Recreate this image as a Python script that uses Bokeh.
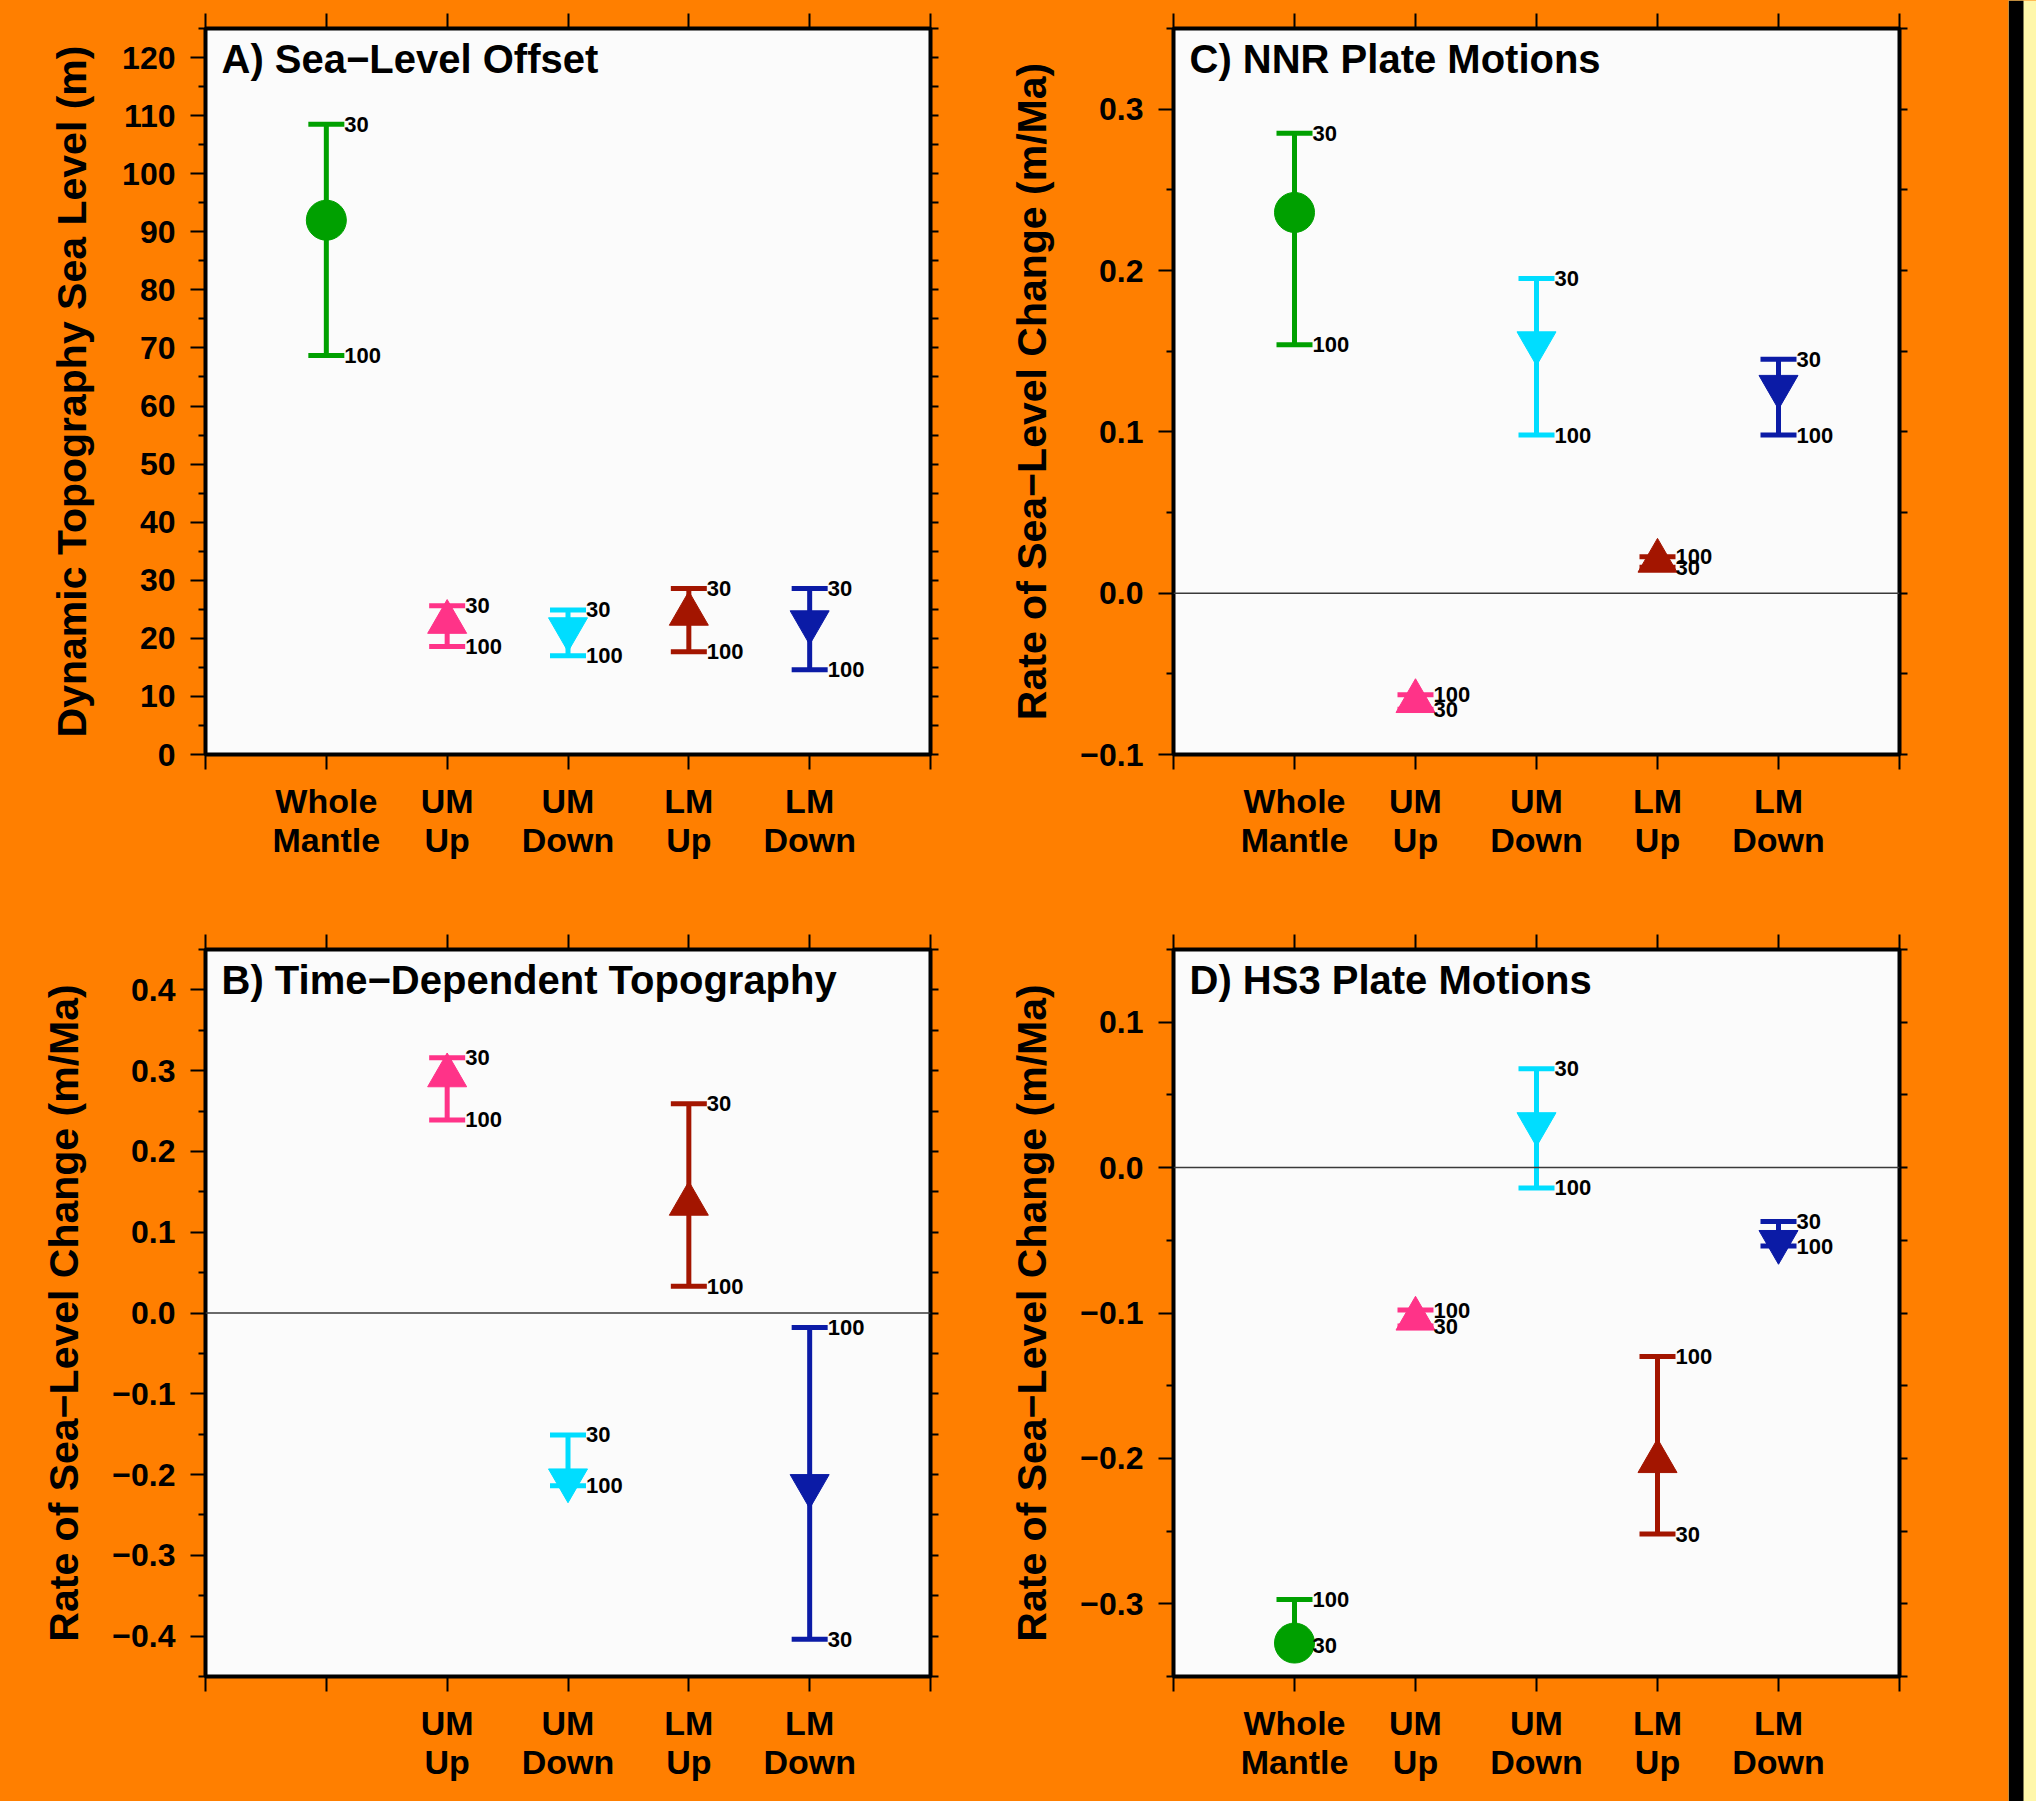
from bokeh.plotting import figure
from bokeh.models import (FixedTicker, LinearAxis, Range1d, Span, Label,
                          CustomJSTickFormatter, ColumnDataSource)
from bokeh.layouts import row, column
from bokeh.embed import file_html
from bokeh.resources import INLINE
from bokeh.core.properties import value

# ---------------- data ----------------
categories = ["Whole Mantle", "UM Up", "UM Down", "LM Up", "LM Down"]
cat_pos = [1, 2, 3, 4, 5]
markers = ["circle", "triangle", "inverted_triangle", "triangle", "inverted_triangle"]
colors = ["#00A000", "#FF3388", "#00DDFF", "#A31500", "#0B1BA6"]

# A) Sea-Level Offset (m)
a_value = [92.0, 22.8, 21.6, 24.2, 22.8]
a_30 = [108.5, 25.6, 24.9, 28.6, 28.6]
a_100 = [68.7, 18.6, 17.0, 17.7, 14.6]

# B) Time-Dependent Topography (m/Ma)  (no Whole Mantle value)
b_value = [None, 0.294, -0.207, 0.135, -0.214]
b_30 = [None, 0.316, -0.151, 0.259, -0.404]
b_100 = [None, 0.239, -0.214, 0.033, -0.018]

# C) NNR Plate Motions (m/Ma)
c_value = [0.236, -0.067, 0.155, 0.020, 0.128]
c_30 = [0.285, -0.072, 0.195, 0.016, 0.145]
c_100 = [0.154, -0.063, 0.098, 0.0225, 0.098]

# D) HS3 Plate Motions (m/Ma)
d_value = [-0.327, -0.104, 0.030, -0.202, -0.051]
d_30 = [-0.329, -0.109, 0.068, -0.252, -0.037]
d_100 = [-0.297, -0.098, -0.014, -0.130, -0.054]

titles = ["A) Sea\u2212Level Offset", "B) Time\u2212Dependent Topography",
          "C) NNR Plate Motions", "D) HS3 Plate Motions"]
ylabel_a = "Dynamic Topography Sea Level (m)"
ylabel_rate = "Rate of Sea\u2212Level Change (m/Ma)"

a_ticks = [0, 10, 20, 30, 40, 50, 60, 70, 80, 90, 100, 110, 120]
a_minor = [5, 15, 25, 35, 45, 55, 65, 75, 85, 95, 105, 115, 125]
b_ticks = [-0.4, -0.3, -0.2, -0.1, 0.0, 0.1, 0.2, 0.3, 0.4]
b_minor = [-0.45, -0.35, -0.25, -0.15, -0.05, 0.05, 0.15, 0.25, 0.35, 0.45]
c_ticks = [-0.1, 0.0, 0.1, 0.2, 0.3]
c_minor = [-0.05, 0.05, 0.15, 0.25, 0.35]
d_ticks = [-0.3, -0.2, -0.1, 0.0, 0.1]
d_minor = [-0.35, -0.25, -0.15, -0.05, 0.05, 0.15]
x_ticks = [0, 1, 2, 3, 4, 5, 6]

ORANGE = "#FF7F00"
PLOTBG = "#FBFBFB"
FONT = "Liberation Sans"

LW, RW, SW = 968, 1040, 28
TH, BH = 878, 923

fmt_int = CustomJSTickFormatter(code="return tick.toFixed(0);")
fmt_dec = CustomJSTickFormatter(
    code="return (tick < -1e-9 ? '\u2212' : '') + Math.abs(tick).toFixed(1);")


def style_axis(ax, major_out=15, minor_out=7):
    ax.axis_line_color = None
    ax.major_tick_line_color = "black"
    ax.major_tick_line_width = 2
    ax.major_tick_in = 0
    ax.major_tick_out = major_out
    ax.minor_tick_line_color = "black"
    ax.minor_tick_line_width = 2
    ax.minor_tick_in = 0
    ax.minor_tick_out = minor_out
    ax.major_label_text_font = FONT
    ax.major_label_text_font_style = "bold"
    ax.major_label_text_color = "black"
    ax.major_label_text_font_size = "32px"
    ax.major_label_standoff = 15
    ax.axis_label_text_font = FONT
    ax.axis_label_text_font_style = "bold"
    ax.axis_label_text_font_size = "41px"
    ax.axis_label_text_color = "black"


def panel(title, vals, v30, v100, yr, ticks, minor, fmt, ylabel, w, h,
          bl, br, bt, bb, show_cat, zero_line, ylab_standoff):
    frame_h = h - bt - bb
    p = figure(width=w, height=h, x_range=Range1d(0, 6), y_range=Range1d(*yr),
               output_backend="svg", toolbar_location=None,
               min_border_left=bl, min_border_right=br,
               min_border_top=bt, min_border_bottom=bb,
               background_fill_color=PLOTBG, border_fill_color=ORANGE,
               outline_line_color="black", outline_line_width=4,
               x_axis_location="below", y_axis_location="left")
    p.xgrid.visible = False
    p.ygrid.visible = False

    # left axis
    yax = p.yaxis[0]
    yax.ticker = FixedTicker(ticks=ticks, minor_ticks=minor)
    yax.formatter = fmt
    style_axis(yax)
    yax.axis_label = ylabel
    yax.axis_label_standoff = ylab_standoff

    # bottom axis: labelled ticks at shown categories, other ticks as "minor"
    lab_pos = [xp for xp, s in zip(cat_pos, show_cat) if s]
    other = [t for t in x_ticks if t not in lab_pos]
    xax = p.xaxis[0]
    xax.ticker = FixedTicker(ticks=lab_pos, minor_ticks=other)
    xax.major_label_overrides = {xp: c.replace(" ", "\n")
                                 for c, xp in zip(categories, cat_pos) if xp in lab_pos}
    style_axis(xax, major_out=15, minor_out=15)
    xax.major_label_text_font_size = "34px"
    xax.major_label_text_line_height = 1.05
    xax.major_label_standoff = 12

    # right + top axes: ticks only (all as minor ticks, so no labels are drawn)
    rax = LinearAxis(ticker=FixedTicker(ticks=[], minor_ticks=sorted(ticks + minor)))
    style_axis(rax, major_out=8, minor_out=8)
    rax.major_label_standoff = 0
    p.add_layout(rax, "right")
    tax = LinearAxis(ticker=FixedTicker(ticks=[], minor_ticks=x_ticks))
    style_axis(tax, major_out=15, minor_out=15)
    tax.major_label_standoff = 0
    p.add_layout(tax, "above")

    if zero_line:
        p.add_layout(Span(location=0, dimension="width", line_color="#3A3A3A",
                          line_width=1.5))

    xs, ys, y30, y100, cols, mks, sizes = [], [], [], [], [], [], []
    for xp, v, a, b, col, mk in zip(cat_pos, vals, v30, v100, colors, markers):
        if v is None:
            continue
        xs.append(xp); ys.append(v); y30.append(a); y100.append(b)
        cols.append(col); mks.append(mk)
        sizes.append(40 if mk == "circle" else 39)
    src = ColumnDataSource(dict(x=xs, y=ys, y30=y30, y100=y100, color=cols,
                                marker=mks, size=sizes,
                                l30=["30"] * len(xs), l100=["100"] * len(xs)))
    # error bars
    p.segment(x0="x", y0="y30", x1="x", y1="y100", source=src,
              line_color="color", line_width=5)
    p.scatter(x="x", y="y30", marker="dash", size=36, source=src,
              line_color="color", line_width=5)
    p.scatter(x="x", y="y100", marker="dash", size=36, source=src,
              line_color="color", line_width=5)
    # symbols
    p.scatter(x="x", y="y", marker="marker", size="size", source=src,
              fill_color="color", line_color="color", line_width=1)
    # labels
    for col in ("30", "100"):
        p.text(x="x", y="y" + col, text="l" + col, source=src, x_offset=18,
               text_baseline="middle", text_align="left",
               text_font=value(FONT), text_font_style="bold",
               text_font_size="22px", text_color="black")

    # panel title
    span = yr[1] - yr[0]
    ty = yr[1] - 30.0 * span / frame_h
    tx = 16.0 * 6.0 / (w - bl - br)
    p.add_layout(Label(x=tx, y=ty, text=title, text_font=FONT,
                       text_font_style="bold", text_font_size="40px",
                       text_color="black", text_baseline="alphabetic"))
    return p


show_all = [True, True, True, True, True]
show_no_wm = [False, True, True, True, True]

pa = panel(titles[0], a_value, a_30, a_100, (0, 125), a_ticks, a_minor, fmt_int,
           ylabel_a, LW, TH, 205, LW - 205 - 725, 28, TH - 28 - 726,
           show_all, False, 24)
pb = panel(titles[1], b_value, b_30, b_100, (-0.45, 0.45), b_ticks, b_minor, fmt_dec,
           ylabel_rate, LW, BH, 205, LW - 205 - 725, 71, BH - 71 - 727,
           show_no_wm, True, 22)
pc = panel(titles[2], c_value, c_30, c_100, (-0.1, 0.35), c_ticks, c_minor, fmt_dec,
           ylabel_rate, RW, TH, 205, RW - 205 - 726, 28, TH - 28 - 726,
           show_all, True, 22)
pd = panel(titles[3], d_value, d_30, d_100, (-0.35, 0.15), d_ticks, d_minor, fmt_dec,
           ylabel_rate, RW, BH, 205, RW - 205 - 726, 71, BH - 71 - 727,
           show_all, True, 22)

# right edge strip (black band + pale yellow)
strip = figure(width=SW, height=TH + BH, x_range=Range1d(0, SW), y_range=Range1d(0, 1),
               output_backend="svg", toolbar_location=None,
               min_border=0, min_border_left=0, min_border_right=0,
               min_border_top=0, min_border_bottom=0,
               background_fill_color="#FFF7AA", border_fill_color="#FFF7AA",
               outline_line_color=None)
strip.axis.visible = False
strip.xgrid.visible = False
strip.ygrid.visible = False
strip.quad(left=[0], right=[15], bottom=[0], top=[1], fill_color="black",
           line_color=None)

left_col = column(pa, pb, styles={"background-color": ORANGE})
right_col = column(pc, pd, styles={"background-color": ORANGE})
layout = row(left_col, right_col, strip, styles={"background-color": ORANGE})

with open("out.html", "w") as f:
    f.write(file_html(layout, INLINE))
